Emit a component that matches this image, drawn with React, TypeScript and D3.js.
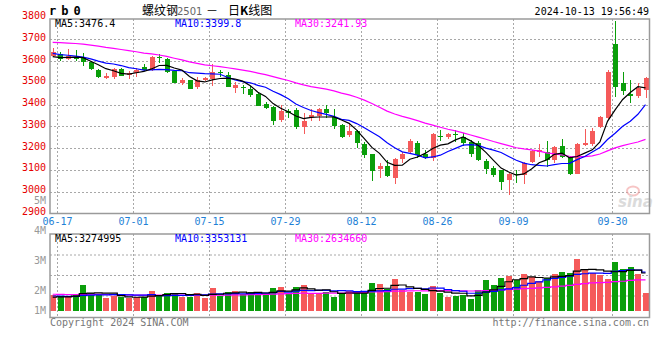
import React from "react";
import * as d3 from "d3";

// ---------- data ----------
const dates = [
  "06-17","06-18","06-19","06-20","06-21","06-24","06-25","06-26","06-27","06-28",
  "07-01","07-02","07-03","07-04","07-05","07-08","07-09","07-10","07-11","07-12",
  "07-15","07-16","07-17","07-18","07-19","07-22","07-23","07-24","07-25","07-26",
  "07-29","07-30","07-31","08-01","08-02","08-05","08-06","08-07","08-08","08-09",
  "08-12","08-13","08-14","08-15","08-16","08-19","08-20","08-21","08-22","08-23",
  "08-26","08-27","08-28","08-29","08-30","09-02","09-03","09-04","09-05","09-06",
  "09-09","09-10","09-11","09-12","09-13","09-18","09-19","09-20","09-23","09-24",
  "09-25","09-26","09-27","09-30","10-08","10-09","10-10","10-11","10-14",
];

const opens = [
  3623,3634,3608,3620,3612,3594,3559,3521,3528,3565,
  3536,3543,3574,3560,3620,3609,3556,3498,3512,3483,
  3513,3516,3550,3535,3478,3480,3472,3448,3403,3390,
  3328,3370,3374,3298,3343,3348,3378,3343,3305,3260,
  3278,3220,3172,3106,3120,3063,3150,3183,3225,3172,
  3153,3258,3250,3263,3250,3228,3225,3142,3108,3098,
  3052,3082,3076,3137,3183,3182,3147,3208,3160,3083,
  3214,3220,3298,3340,3678,3500,3448,3441,3468,
];
const highs = [
  3658,3643,3655,3651,3638,3600,3562,3543,3568,3567,
  3555,3568,3585,3621,3632,3614,3560,3522,3515,3528,
  3528,3585,3560,3550,3502,3490,3485,3455,3412,3394,
  3396,3382,3385,3360,3380,3385,3397,3378,3310,3315,
  3285,3228,3175,3132,3145,3157,3182,3240,3232,3193,
  3268,3285,3270,3282,3270,3238,3232,3148,3120,3102,
  3088,3101,3135,3190,3218,3233,3210,3240,3165,3222,
  3290,3292,3350,3560,3782,3551,3512,3500,3525,
];
const lows = [
  3620,3600,3605,3601,3578,3560,3523,3516,3518,3530,
  3517,3528,3553,3555,3590,3545,3497,3490,3470,3472,
  3508,3487,3525,3480,3455,3448,3437,3392,3378,3306,
  3320,3337,3290,3264,3325,3325,3338,3290,3248,3252,
  3200,3157,3050,3063,3067,3037,3130,3178,3157,3148,
  3142,3232,3240,3228,3210,3158,3140,3080,3067,3006,
  2983,3038,3034,3130,3160,3113,3130,3155,3078,3080,
  3212,3212,3292,3335,3433,3443,3408,3430,3430,
];
const closes = [
  3643,3609,3622,3610,3594,3562,3528,3531,3562,3533,
  3546,3560,3560,3620,3612,3550,3499,3512,3473,3512,
  3524,3548,3543,3482,3490,3476,3442,3395,3385,3326,
  3370,3360,3298,3325,3354,3378,3361,3300,3253,3278,
  3222,3168,3096,3116,3073,3152,3172,3233,3168,3155,
  3263,3250,3263,3260,3222,3172,3145,3105,3076,3045,
  3080,3076,3132,3187,3190,3145,3205,3160,3080,3218,
  3224,3279,3344,3550,3482,3462,3441,3475,3523,
];
// volume, millions of lots
const volumes = [
  1.37,1.30,1.17,1.37,2.23,1.57,1.37,1.13,1.30,1.17,
  1.08,1.17,1.17,1.74,1.37,1.57,1.57,1.22,1.22,1.57,
  1.08,2.00,1.28,1.65,1.71,1.45,1.65,1.51,1.37,2.00,
  2.09,1.51,2.09,2.23,1.57,1.57,1.65,1.22,1.51,1.74,
  1.51,1.65,2.43,2.32,1.86,2.76,1.80,1.65,1.65,1.45,
  2.15,1.57,1.22,1.28,1.37,1.02,1.80,2.67,2.23,2.84,
  3.04,2.67,3.19,2.96,2.58,2.82,3.19,3.37,3.30,4.50,
  3.54,3.30,3.10,2.76,4.23,3.63,3.80,3.19,1.54,
];
// sessions before 06-17, estimated from where the MA lines start
const priorCloses = [
  3660,3672,3668,3680,3690,3685,3695,3700,3690,3697,
  3720,3735,3748,3756,3750,3742,3738,3745,3730,3729,
  3660,3655,3648,3645,3642,3630,3618,3605,3604,
];
const priorVolumes = [
  1.62,1.48,1.55,1.70,1.42,1.38,1.60,1.52,1.45,1.66,
  1.50,1.40,1.58,1.47,1.35,1.62,1.44,1.50,1.41,1.45,
  1.45,1.32,1.50,1.30,1.38,1.10,1.18,1.05,1.15,
];

const priceTicks = [3800,3700,3600,3500,3400,3300,3200,3100,3000,2900];
const dateTicks = ["06-17","07-01","07-15","07-29","08-12","08-26","09-09","09-30"];
const volTickLabels = [5,4,3,2,1];
const maPeriods = [5, 10, 30];
const maColors = ["#000000", "#0000ff", "#ff00ff"];
const priceMaText = ["MA5:3476.4", "MA10:3399.8", "MA30:3241.93"];
const volMaText = ["MA5:3274995", "MA10:3353131", "MA30:2634660"];

// ---------- layout ----------
const W = 660, H = 360;
const P = { left: 50, right: 649.5, top: 19, bottom: 213.5 };
const V = { top: 234, bottom: 317.5, base: 310.7 };
const RED = "#f55a5a";
const GREEN = "#0a9e0a";
const MONO = "'DejaVu Sans Mono', monospace";
const CJK = "'Noto Sans CJK SC', sans-serif";

function movingAvg(prior: number[], vals: number[], n: number) {
  const all = prior.concat(vals);
  const off = prior.length;
  return vals.map((_, i) => d3.mean(all.slice(off + i - n + 1, off + i + 1)) as number);
}

export default function App() {
  const x = d3.scalePoint<string>().domain(dates).range([52.7, 645.5]);
  const step = x.step();
  const y = d3.scaleLinear().domain([2900, 3800]).range([P.bottom, 17.5]);
  const yv = d3.scaleLinear().domain([0, 6.7]).range([V.base, V.base - 6.7 * 11.5]);
  const volLabelY = d3.scaleLinear().domain([5, 2]).range([204, 294]);
  const bodyW = step * 0.69;
  const gx = (d: string) => Math.round((x(d) as number) + step * 0.6) + 0.5;

  const priceMA = maPeriods.map((n) => movingAvg(priorCloses, closes, n));
  const volMA = maPeriods.map((n) => movingAvg(priorVolumes, volumes, n));

  const line = d3.line<number>().x((_, i) => x(dates[i]) as number).y((v) => y(v));
  const vline = d3
    .line<number>()
    .x((_, i) => x(dates[i]) as number)
    .y((v) => yv(v))
    .curve(d3.curveStep);

  const gridColor = "#a8a8a8";
  const borderColor = "#9a9a9a";

  return (
    <svg
      width={W}
      height={H}
      viewBox={`0 0 ${W} ${H}`}
      style={{ position: "absolute", left: 0, top: 0, background: "#fff", display: "block" }}
    >
      <defs>
        <clipPath id="mainClip">
          <rect x={P.left} y={P.top - 1} width={P.right - P.left} height={P.bottom - P.top + 1} />
        </clipPath>
        <clipPath id="volClip">
          <rect x={P.left} y={V.top} width={P.right - P.left} height={V.bottom - V.top} />
        </clipPath>
      </defs>

      {/* header */}
      <text x={49} y={15} fontFamily={MONO} fontWeight="bold" fontSize={12} letterSpacing={5} fill="#000">
        rb0
      </text>
      <text x={142} y={15} fontFamily={CJK} fontSize={12} fill="#000">螺纹钢</text>
      <text x={177} y={15} fontFamily="'DejaVu Sans', sans-serif" fontSize={10} fill="#666">2501</text>
      <text x={206} y={15} fontFamily={CJK} fontSize={12} fill="#000">－</text>
      <text x={228} y={15} fontFamily={CJK} fontSize={12} fill="#000">
        日<tspan fontWeight="bold">K</tspan>线图
      </text>
      <text x={649} y={15} textAnchor="end" fontFamily={MONO} fontSize={10} fill="#000">
        2024-10-13 19:56:49
      </text>

      {/* main grid */}
      {priceTicks.slice(1, -1).map((p) => (
        <line key={"hg" + p} x1={P.left} x2={P.right} y1={Math.round(y(p)) + 0.5} y2={Math.round(y(p)) + 0.5}
          stroke={gridColor} strokeDasharray="2,2" />
      ))}
      {dateTicks.map((d) => (
        <line key={"vg" + d} x1={gx(d)} x2={gx(d)} y1={P.top} y2={P.bottom} stroke={gridColor} strokeDasharray="2,2" />
      ))}
      {dateTicks.map((d) => (
        <line key={"vgv" + d} x1={gx(d)} x2={gx(d)} y1={V.top} y2={V.bottom} stroke={gridColor} strokeDasharray="2,2" />
      ))}
      {d3.range(1, 4).map((k) => (
        <line key={"vh" + k} x1={P.left} x2={P.right} y1={V.top + k * 20.5 + 0.5} y2={V.top + k * 20.5 + 0.5}
          stroke={gridColor} strokeDasharray="2,2" />
      ))}

      {/* price axis labels */}
      {priceTicks.map((p) => (
        <text key={"pl" + p} x={46} y={y(p) + 1.5} textAnchor="end" fontFamily={MONO} fontSize={10} fill="#e60000">
          {p}
        </text>
      ))}
      {volTickLabels.map((v) => (
        <text key={"vl" + v} x={46} y={Math.min(volLabelY(v), V.bottom - 3.5)} textAnchor="end"
          fontFamily={MONO} fontSize={10} fill="#999">
          {v}M
        </text>
      ))}
      {dateTicks.map((d) => (
        <text key={"dl" + d} x={gx(d)} y={224.5} textAnchor="middle" fontFamily={MONO} fontSize={10} fill="#1e7fd6">
          {d}
        </text>
      ))}

      {/* watermark */}
      <g opacity={0.6}>
        <ellipse cx={633} cy={191} rx={6} ry={4.5} fill="none" stroke="#f2a0a0" strokeWidth={2} />
        <text x={618} y={207} fontFamily="'DejaVu Sans', sans-serif" fontStyle="italic" fontWeight="bold"
          fontSize={15} fill="#c4c4c4">sina</text>
      </g>

      {/* candles */}
      <g clipPath="url(#mainClip)" shapeRendering="crispEdges">
        {dates.map((d, i) => {
          const up = closes[i] >= opens[i];
          const c = up ? RED : GREEN;
          const cx = Math.round(x(d) as number) + 0.5;
          const top = y(Math.max(opens[i], closes[i]));
          const bot = y(Math.min(opens[i], closes[i]));
          return (
            <g key={"c" + d}>
              <line x1={cx} x2={cx} y1={y(highs[i])} y2={y(lows[i])} stroke={c} strokeWidth={1} />
              <rect x={cx - bodyW / 2} y={top} width={bodyW} height={Math.max(1, bot - top)} fill={c} />
            </g>
          );
        })}
      </g>
      <g clipPath="url(#mainClip)" fill="none" strokeWidth={1.2}>
        {[2, 1, 0].map((k) => (
          <path key={"pm" + k} d={line(priceMA[k]) || ""} stroke={maColors[k]} />
        ))}
      </g>

      {/* volume */}
      <g clipPath="url(#volClip)" shapeRendering="crispEdges">
        {dates.map((d, i) => {
          const up = closes[i] >= opens[i];
          const cx = x(d) as number;
          return (
            <rect key={"v" + d} x={Math.round(cx - 2.8)} y={yv(volumes[i])} width={5.6}
              height={yv(0) - yv(volumes[i])} fill={up ? RED : GREEN} />
          );
        })}
      </g>
      <g clipPath="url(#volClip)" fill="none" strokeWidth={1.2}>
        {[2, 1, 0].map((k) => (
          <path key={"vm" + k} d={vline(volMA[k]) || ""} stroke={maColors[k]} />
        ))}
      </g>

      {/* frames */}
      <rect x={P.left} y={P.top} width={P.right - P.left} height={P.bottom - P.top} fill="none"
        stroke={borderColor} strokeWidth={1.5} />
      <rect x={P.left} y={V.top} width={P.right - P.left} height={V.bottom - V.top} fill="none"
        stroke={borderColor} strokeWidth={1.5} />

      {/* MA labels */}
      {priceMaText.map((t, k) => (
        <text key={"pt" + k} x={55 + k * 120} y={27} fontFamily={MONO} fontSize={10} fill={maColors[k]}>{t}</text>
      ))}
      {volMaText.map((t, k) => (
        <text key={"vt" + k} x={55 + k * 120} y={242} fontFamily={MONO} fontSize={10} fill={maColors[k]}>{t}</text>
      ))}

      {/* footer */}
      <text x={50} y={326} fontFamily={MONO} fontSize={10} fill="#777">Copyright 2024 SINA.COM</text>
      <text x={649} y={326} textAnchor="end" fontFamily={MONO} fontSize={10} fill="#777">
        http://finance.sina.com.cn
      </text>
    </svg>
  );
}
